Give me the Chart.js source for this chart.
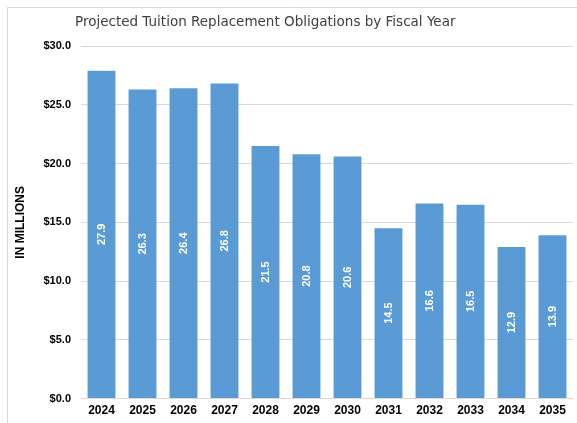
<!DOCTYPE html>
<html>
<head>
<meta charset="utf-8">
<script src="https://cdn.jsdelivr.net/npm/chart.js@4/dist/chart.umd.min.js"></script>
<style>
  html, body { margin: 0; padding: 0; background: #ffffff; }
  #wrap { width: 577px; height: 423px; position: relative; }
</style>
</head>
<body>
<div id="wrap"><canvas id="c" width="577" height="423"></canvas></div>
<script>
// Fiscal years and projected obligations (millions of dollars)
const fiscalYears = ['2024', '2025', '2026', '2027', '2028', '2029', '2030', '2031', '2032', '2033', '2034', '2035'];
const obligations = [27.9, 26.3, 26.4, 26.8, 21.5, 20.8, 20.6, 14.5, 16.6, 16.5, 12.9, 13.9];
const yTickValues = [0, 5, 10, 15, 20, 25, 30];

const chartTitle = 'Projected Tuition Replacement Obligations by Fiscal Year';
const yAxisTitle = 'IN MILLIONS';

// Frame lines and the heading text
const framePlugin = {
  id: 'frame',
  beforeDraw(chart) {
    const ctx = chart.ctx;
    ctx.save();
    ctx.strokeStyle = '#d9d9d9';
    ctx.lineWidth = 1;
    ctx.beginPath();
    ctx.moveTo(7.5, chart.height);
    ctx.lineTo(7.5, 7.5);
    ctx.lineTo(chart.width, 7.5);
    ctx.stroke();
    ctx.fillStyle = '#404040';
    ctx.font = '13.5px "DejaVu Sans", Verdana, sans-serif';
    ctx.textBaseline = 'middle';
    ctx.textAlign = 'left';
    ctx.fillText(chartTitle, 75, 22);
    ctx.restore();
  }
};

// Value labels written vertically inside each bar
const barLabelPlugin = {
  id: 'barLabels',
  afterDatasetsDraw(chart) {
    const ctx = chart.ctx;
    const meta = chart.getDatasetMeta(0);
    const values = chart.data.datasets[0].data;
    ctx.save();
    ctx.fillStyle = '#ffffff';
    ctx.font = 'bold 11px "Liberation Sans", Arial, sans-serif';
    ctx.textAlign = 'center';
    ctx.textBaseline = 'middle';
    meta.data.forEach((bar, i) => {
      const cy = (bar.y + bar.base) / 2;
      ctx.save();
      ctx.translate(bar.x, cy);
      ctx.rotate(-Math.PI / 2);
      ctx.fillText(values[i].toFixed(1), 0, 0);
      ctx.restore();
    });
    ctx.restore();
  }
};

new Chart(document.getElementById('c'), {
  type: 'bar',
  data: {
    labels: fiscalYears,
    datasets: [{
      data: obligations,
      backgroundColor: '#5b9bd5',
      borderWidth: 0,
      categoryPercentage: 1.0,
      barPercentage: 0.68
    }]
  },
  options: {
    responsive: false,
    animation: false,
    devicePixelRatio: 1,
    layout: { padding: { top: 46, right: 4, bottom: 0, left: 0 } },
    plugins: {
      legend: { display: false },
      title: { display: false },
      tooltip: { enabled: false }
    },
    scales: {
      x: {
        grid: { display: false, drawTicks: false },
        border: { display: true, color: '#d9d9d9', width: 1 },
        ticks: {
          color: '#000000',
          font: { family: '"Liberation Sans", Arial, sans-serif', size: 12, weight: 'bold' },
          padding: 5,
          maxRotation: 0
        }
      },
      y: {
        min: 0,
        max: 30,
        afterBuildTicks(scale) { scale.ticks = yTickValues.map(v => ({ value: v })); },
        afterFit(scale) { scale.width = 81; },
        grid: { color: '#d9d9d9', drawTicks: false, lineWidth: 1 },
        border: { display: false },
        ticks: {
          color: '#000000',
          padding: 10,
          font: { family: '"Liberation Sans", Arial, sans-serif', size: 11, weight: 'bold' },
          callback: v => '$' + Number(v).toFixed(1)
        },
        title: {
          display: true,
          text: yAxisTitle,
          color: '#000000',
          font: { family: '"Liberation Sans", Arial, sans-serif', size: 12, weight: 'bold' },
          padding: { top: 13, bottom: 0 }
        }
      }
    }
  },
  plugins: [framePlugin, barLabelPlugin]
});
</script>
</body>
</html>
